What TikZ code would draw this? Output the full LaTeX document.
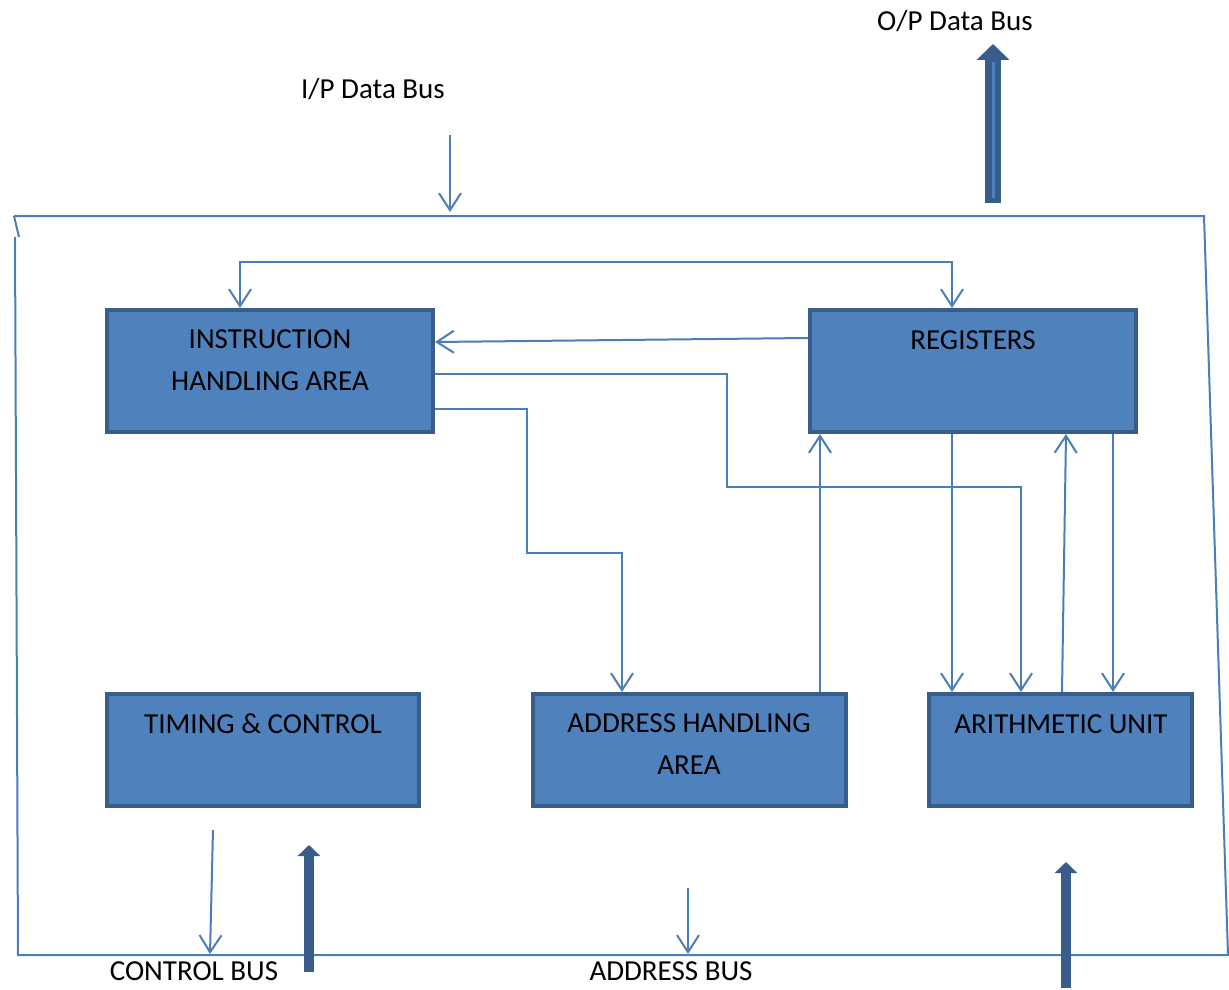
\documentclass[tikz,border=0pt]{standalone}
\usepackage{fontspec}
\setmainfont{Carlito}
\usetikzlibrary{arrows.meta}
\definecolor{boxfill}{HTML}{4F81BD}
\definecolor{boxline}{HTML}{385D8A}
\definecolor{wire}{HTML}{4A7EBB}
\begin{document}
\begin{tikzpicture}[x=1pt,y=-1pt,
  unitbox/.style={draw=boxline, fill=boxfill, line width=4pt, inner sep=0pt},
  caption/.style={inner sep=0pt, font=\fontsize{29}{42}\selectfont, align=center, text=black},
  wire/.style={draw=wire, line width=2pt},
  flow/.style={wire, -{Straight Barb[length=17pt,width=22pt,line width=2pt]}},
  biflow/.style={wire, {Straight Barb[length=17pt,width=22pt,line width=2pt]}-{Straight Barb[length=17pt,width=22pt,line width=2pt]}},
  bus/.style={draw=boxline, -{Triangle[length=#1pt,width=2*#1pt]}},
]
\useasboundingbox (0,0) rectangle (1229,990);

% outer frame of the processor
\coordinate (ftl) at (14,216);
\coordinate (ftr) at (1204,216);
\coordinate (fbr) at (1228,955);
\coordinate (fbl) at (18,955);
\coordinate (fl) at (15,237);
\draw[wire] (ftl) -- (19,237);
\draw[wire] (fl) -- (fbl) -- (fbr) -- (ftr) -- (ftl);

% functional units
\node[unitbox, minimum width=326pt, minimum height=122pt] (inst) at (270,371) {};
\node[unitbox, minimum width=326pt, minimum height=122pt] (regs) at (973,371) {};
\node[unitbox, minimum width=312pt, minimum height=112pt] (timing) at (263,750) {};
\node[unitbox, minimum width=313pt, minimum height=112pt] (addr) at (689.5,750) {};
\node[unitbox, minimum width=263pt, minimum height=112pt] (arith) at (1060.5,750) {};

\node[caption] (instT) at (270,360) {INSTRUCTION\\HANDLING AREA};
\node[caption] (regsT) at (973,340) {REGISTERS};
\node[caption] (timingT) at (263,724) {TIMING \& CONTROL};
\node[caption] (addrT) at (689,744) {ADDRESS HANDLING\\AREA};
\node[caption] (arithT) at (1061,724) {ARITHMETIC UNIT};

% bus labels
\node[caption] (opL) at (955,21) {O/P Data Bus};
\node[caption] (ipL) at (373,89) {I/P Data Bus};
\node[caption] (ctlL) at (194,971) {CONTROL BUS};
\node[caption] (adrL) at (671,971) {ADDRESS BUS};

% internal connections
\draw[biflow] (inst.north -| 240,0) -- (240,262) -- (952,262) -- (regs.north -| 952,0);
\draw[flow] (regs.west |- 0,338) -- (inst.east |- 0,342);
\draw[flow] (inst.east |- 0,374) -- (727,374) -- (727,487) -- (1021,487) -- (arith.north -| 1021,0);
\draw[flow] (inst.east |- 0,409) -- (527,409) -- (527,553) -- (622,553) -- (addr.north -| 622,0);
\draw[flow] (addr.north -| 820,0) -- (regs.south -| 820,0);
\draw[flow] (regs.south -| 952,0) -- (arith.north -| 952,0);
\draw[flow] (arith.north -| 1062,0) -- (regs.south -| 1066,0);
\draw[flow] (regs.south -| 1113,0) -- (arith.north -| 1113,0);

% external buses
\coordinate (ipS) at (450,135);
\draw[flow] (ipS) -- (450,212);
\coordinate (ctlS) at (213,830);
\draw[flow] (ctlS) -- (210,954);
\coordinate (adrS) at (688,888);
\draw[flow] (adrS) -- (688,954);

% wide data buses
\draw[bus=16, line width=16pt] (993,203) -- (993,44);
\draw[boxfill, line width=3pt] (993,198) -- (993,62);
\draw[bus=11, line width=10pt] (309,972) -- (309,845);
\draw[bus=11, line width=10pt] (1066,988) -- (1066,862);
\end{tikzpicture}
\end{document}
